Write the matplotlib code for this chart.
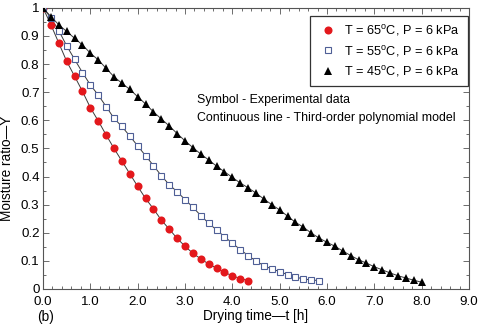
import matplotlib
matplotlib.use("Agg")
import matplotlib.pyplot as plt
from matplotlib.ticker import MultipleLocator, FixedLocator
import numpy as np

# sampling times in minutes (one reading every 10 min)
minutes = [0, 10, 20, 30, 40, 50, 60, 70, 80, 90, 100, 110, 120, 130, 140,
           150, 160, 170, 180, 190, 200, 210, 220, 230, 240, 250, 260, 270,
           280, 290, 300, 310, 320, 330, 340, 350, 360, 370, 380, 390, 400,
           410, 420, 430, 440, 450, 460, 470, 480]

# moisture ratio Y
y_65 = [1.000, 0.940, 0.875, 0.810, 0.757, 0.703, 0.645, 0.598, 0.548, 0.500,
        0.455, 0.410, 0.365, 0.322, 0.285, 0.245, 0.213, 0.180, 0.152, 0.127,
        0.107, 0.089, 0.074, 0.059, 0.047, 0.037, 0.030]
y_55 = [1.000, 0.965, 0.919, 0.865, 0.817, 0.770, 0.726, 0.690, 0.649, 0.607,
        0.578, 0.544, 0.509, 0.474, 0.439, 0.403, 0.371, 0.346, 0.318, 0.291,
        0.261, 0.234, 0.210, 0.186, 0.163, 0.140, 0.119, 0.099, 0.083, 0.071,
        0.062, 0.051, 0.042, 0.036, 0.032, 0.030]
y_45 = [1.000, 0.969, 0.940, 0.916, 0.892, 0.868, 0.839, 0.815, 0.785, 0.755,
        0.732, 0.710, 0.684, 0.658, 0.630, 0.605, 0.580, 0.553, 0.527, 0.503,
        0.480, 0.459, 0.437, 0.417, 0.397, 0.377, 0.360, 0.341, 0.320, 0.300,
        0.281, 0.259, 0.237, 0.220, 0.199, 0.181, 0.166, 0.152, 0.135, 0.119,
        0.104, 0.092, 0.079, 0.068, 0.057, 0.047, 0.039, 0.031, 0.024]

labels = ["T = 65$^{\\rm o}$C, P = 6 kPa",
          "T = 55$^{\\rm o}$C, P = 6 kPa",
          "T = 45$^{\\rm o}$C, P = 6 kPa"]

x_ticks = [0, 1, 2, 3, 4, 5, 6, 7, 8, 9]
x_ticklabels = ["0.0", "1.0", "2.0", "3.0", "4.0", "5.0", "6.0", "7.0", "8.0", "9.0"]
y_ticks = [0, 0.1, 0.2, 0.3, 0.4, 0.5, 0.6, 0.7, 0.8, 0.9, 1.0]
y_ticklabels = ["0", "0.1", "0.2", "0.3", "0.4", "0.5", "0.6", "0.7", "0.8", "0.9", "1"]


def hours(y):
    return np.array(minutes[:len(y)]) / 60.0


def plot(path="out.png"):
    plt.rcParams["font.family"] = ["Liberation Sans", "DejaVu Sans"]
    plt.rcParams["mathtext.fontset"] = "custom"
    plt.rcParams["mathtext.rm"] = "Liberation Sans"

    fig = plt.figure(figsize=(4.8, 3.28), dpi=100)
    ax = fig.add_axes([0.0896, 0.119, 0.8875, 0.857])

    line_kw = dict(color="#3a3a3a", linewidth=0.7, zorder=1)
    ax.plot(hours(y_65), y_65, **line_kw)
    ax.plot(hours(y_55), y_55, **line_kw)
    ax.plot(hours(y_45), y_45, **line_kw)

    ax.plot(hours(y_65), y_65, linestyle="none", marker="o", markersize=5.8,
            color="#e3181c", markeredgewidth=0, label=labels[0], zorder=3)
    ax.plot(hours(y_55), y_55, linestyle="none", marker="s", markersize=4.2,
            markerfacecolor="white", markeredgecolor="#4f5f96",
            markeredgewidth=0.8, label=labels[1], zorder=3)
    ax.plot(hours(y_45), y_45, linestyle="none", marker="^", markersize=5.6,
            color="black", markeredgewidth=0, label=labels[2], zorder=3)

    ax.set_xlim(0, 9)
    ax.set_ylim(0, 1)
    ax.xaxis.set_major_locator(FixedLocator(x_ticks))
    ax.set_xticklabels(x_ticklabels)
    ax.yaxis.set_major_locator(FixedLocator(y_ticks))
    ax.set_yticklabels(y_ticklabels)
    ax.xaxis.set_minor_locator(MultipleLocator(0.2))
    ax.yaxis.set_minor_locator(MultipleLocator(0.05))
    ax.tick_params(which="both", direction="in", top=True, right=True,
                   labelsize=9.6, width=0.6, color="#555555")
    ax.tick_params(which="major", length=4)
    ax.tick_params(axis="x", which="major", pad=5)
    ax.tick_params(axis="y", which="major", pad=2.5)
    ax.tick_params(which="minor", length=2)
    for s in ax.spines.values():
        s.set_linewidth(0.8)
        s.set_color("#555555")

    ax.set_xlabel("Drying time\u2014t [h]", fontsize=9.8, labelpad=1)
    ax.set_ylabel("Moisture ratio\u2014Y", fontsize=9.8)
    ax.yaxis.set_label_coords(-0.068, 0.43)
    ax.text(-0.014, -0.1, "(b)", transform=ax.transAxes, fontsize=9.8,
            ha="left", va="center")

    ax.text(0.362, 0.673, "Symbol - Experimental data", transform=ax.transAxes,
            fontsize=8.9, ha="left", va="center")
    ax.text(0.362, 0.609, "Continuous line - Third-order polynomial model",
            transform=ax.transAxes, fontsize=8.9, ha="left", va="center")

    leg = ax.legend(loc="upper right", bbox_to_anchor=(0.997, 0.972),
                    borderaxespad=0, fancybox=False, fontsize=9.2,
                    handletextpad=0.45, handlelength=1.6, labelspacing=0.4,
                    borderpad=0.6, framealpha=1)
    leg.get_frame().set_edgecolor("#333333")
    leg.get_frame().set_linewidth(0.9)

    fig.savefig(path, dpi=100)


if __name__ == "__main__":
    plot()
